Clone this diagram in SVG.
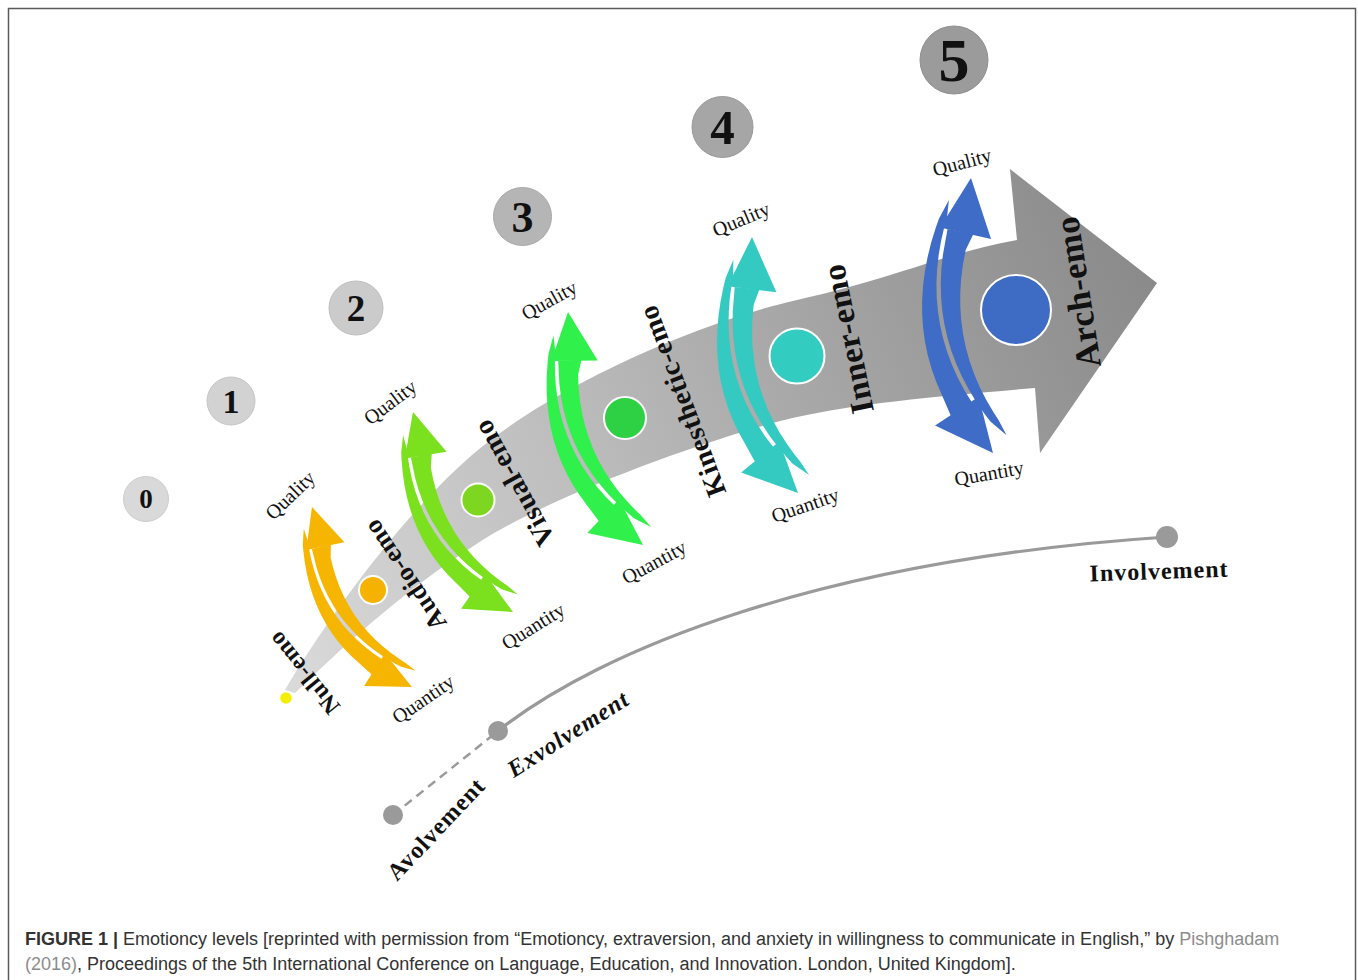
<svg xmlns="http://www.w3.org/2000/svg" width="1358" height="980" viewBox="0 0 1358 980">
<style>
.num{font-family:"Liberation Serif","Times New Roman",serif;font-weight:bold;text-anchor:middle;fill:#111}
.emo{font-family:"Liberation Serif","Times New Roman",serif;font-weight:bold;text-anchor:middle;dominant-baseline:central;fill:#111;letter-spacing:0.5px}
.q{font-family:"Liberation Serif","Times New Roman",serif;font-size:20px;text-anchor:middle;dominant-baseline:central;fill:#111}
.vol{font-family:"Liberation Serif","Times New Roman",serif;font-weight:bold;font-size:24px;text-anchor:middle;dominant-baseline:central;fill:#111;letter-spacing:1px}
.cap{font-family:"Liberation Sans",Arial,sans-serif;font-size:18px;fill:#333}
.lnk{fill:#8c8c8c}
.dot{fill:#9a9a9a}
</style>
<defs>
<linearGradient id="bandGrad" gradientUnits="userSpaceOnUse" x1="285" y1="690" x2="1157" y2="283">
<stop offset="0" stop-color="#dadada"/>
<stop offset="0.3" stop-color="#c3c3c3"/>
<stop offset="0.6" stop-color="#a9a9a9"/>
<stop offset="1" stop-color="#8a8a8a"/>
</linearGradient>
<g id="dbl">
<g transform="translate(-3.24,0.34)">
<polygon points="-8.6,16.3 -11.95,25 -13.48,30 -14.67,35 -15.52,40 -16.03,45 -16.2,50 -16.03,55 -15.52,60 -14.67,65 -13.48,70 -11.95,75 -10.08,80 -7.87,85 -6.38,88 -1.54,94 -3.38,88 -4.61,85 -6.39,80 -7.84,75 -8.94,70 -9.7,65 -10.12,60 -10.2,55 -9.94,50 -9.34,45 -8.41,40 -7.13,35 -5.51,30 -3.55,25 0.3,19.8"/>
<polygon points="-6.14,6 -7.98,12 -9.47,15 -11.68,20 -13.55,25 -15.08,30 -16.27,35 -17.12,40 -17.63,45 -17.8,50 -17.63,55 -17.12,60 -16.27,65 -15.08,70 -13.55,75 -10.84,82 -20.1,83.3 -21.95,75 -23.05,70 -23.81,65 -24.23,60 -24.32,55 -24.06,50 -23.46,45 -22.52,40 -21.24,35 -19.62,30 -17.66,25 -15.37,20 -12.73,15 -10.98,12"/>
<polygon points="3.24,-0.34 6.26,22.8 -11.16,15.2"/>
<polygon points="-7.6,99.4 -26.4,85.6 -8.89,78.3"/>
</g>
</g>
</defs>

<rect x="8.5" y="8.5" width="1347" height="990" fill="#fff" stroke="#5a5a5a" stroke-width="1.5"/>

<g id="band">
<path d="M285,690 C320,630 400,515 478,450 C556,385 700,322 797,300 C894,278 950,252 1017,240 L1010,169 L1157,283 L1040,453 L1035,388 C940,396 860,403 797,417 C734,431 560,490 478,543 C396,596 340,650 295,693 Z" fill="url(#bandGrad)"/>
</g>

<g id="levels">
<g id="level0"><circle cx="146" cy="499" r="22.5" fill="#d9d9d9" stroke="#cdcdcd"/><text class="num" x="146" y="508" font-size="27">0</text></g>
<g id="level1"><circle cx="231" cy="401" r="24" fill="#d2d2d2" stroke="#c6c6c6"/><text class="num" x="231" y="412.5" font-size="34">1</text></g>
<g id="level2"><circle cx="356" cy="308" r="27" fill="#cbcbcb" stroke="#bfbfbf"/><text class="num" x="356" y="320.5" font-size="37">2</text></g>
<g id="level3"><circle cx="522.5" cy="216.5" r="29" fill="#b5b5b5" stroke="#a9a9a9"/><text class="num" x="522.5" y="231.5" font-size="44">3</text></g>
<g id="level4"><circle cx="722.5" cy="127" r="30.5" fill="#a6a6a6" stroke="#9a9a9a"/><text class="num" x="722.5" y="143.5" font-size="49">4</text></g>
<g id="level5"><circle cx="954" cy="60" r="34" fill="#9b9b9b" stroke="#8f8f8f"/><text class="num" x="954" y="81" font-size="62">5</text></g>
</g>

<g id="arrows">
<use href="#dbl" fill="#f6b500" transform="translate(312,507) rotate(-35.25) scale(2.052)"/>
<use href="#dbl" fill="#7be01e" transform="translate(413,412) rotate(-32.77) scale(2.229)"/>
<use href="#dbl" fill="#30f04c" transform="translate(568,312) rotate(-24.04) scale(2.44)"/>
<use href="#dbl" fill="#35cac1" transform="translate(752,237) rotate(-16.39) scale(2.592)"/>
<use href="#dbl" fill="#3f6cc6" transform="translate(971,178) rotate(-10.77) scale(2.75)"/>
</g>

<g id="nodes">
<g id="null-emo"><circle cx="286" cy="698" r="6.5" fill="#f4ef00" stroke="#fff" stroke-width="1.5"/><text class="emo" font-size="24" transform="translate(304,673) rotate(-129)">Null-emo</text></g>
<g id="audio-emo"><circle cx="373" cy="590" r="14" fill="#f6b200" stroke="#fff" stroke-width="2"/><text class="emo" font-size="26" transform="translate(405,575) rotate(-123.7)">Audio-emo</text></g>
<g id="visual-emo"><circle cx="478" cy="500" r="16.5" fill="#7dd620" stroke="#fff" stroke-width="2"/><text class="emo" font-size="28" transform="translate(514,483) rotate(-118.8)">Visual-emo</text></g>
<g id="kinesthetic-emo"><circle cx="625" cy="418" r="21" fill="#2ed044" stroke="#fff" stroke-width="2"/><text class="emo" font-size="28" transform="translate(682,401) rotate(-110.6)">Kinesthetic-emo</text></g>
<g id="inner-emo"><circle cx="797" cy="356" r="27.5" fill="#33ccc0" stroke="#fff" stroke-width="2"/><text class="emo" font-size="33" transform="translate(848,339) rotate(-101.6)">Inner-emo</text></g>
<g id="arch-emo"><circle cx="1016" cy="310" r="35" fill="#3e6bc4" stroke="#fff" stroke-width="2"/><text class="emo" font-size="35" transform="translate(1078,292) rotate(-98.7)">Arch-emo</text></g>
</g>

<g id="qlabels">
<text class="q" transform="translate(290,495) rotate(-44)">Quality</text>
<text class="q" transform="translate(390,402) rotate(-37)">Quality</text>
<text class="q" transform="translate(549,300) rotate(-29)">Quality</text>
<text class="q" transform="translate(741,219) rotate(-23)">Quality</text>
<text class="q" transform="translate(962,162) rotate(-15)">Quality</text>
<text class="q" transform="translate(423,699) rotate(-34.5)">Quantity</text>
<text class="q" transform="translate(533,626) rotate(-32)">Quantity</text>
<text class="q" transform="translate(654,562) rotate(-28.5)">Quantity</text>
<text class="q" transform="translate(805,505) rotate(-19)">Quantity</text>
<text class="q" transform="translate(989,473) rotate(-10)">Quantity</text>
</g>

<g id="connectors">
<path d="M393,815 L498,731" fill="none" stroke="#9a9a9a" stroke-width="2.5" stroke-dasharray="9,6"/>
<path d="M498,731 C600,650 820,560 1167,537" fill="none" stroke="#9a9a9a" stroke-width="3.2"/>
</g>

<g id="involvement-scale">
<g id="avolvement"><circle class="dot" cx="393" cy="815" r="10"/><text class="vol" font-size="25" transform="translate(436,829) rotate(-46.7)">Avolvement</text></g>
<g id="exvolvement"><circle class="dot" cx="498" cy="731" r="10"/><text class="vol" font-style="italic" transform="translate(568,734) rotate(-32.6)">Exvolvement</text></g>
<g id="involvement"><circle class="dot" cx="1167" cy="537" r="11"/><text class="vol" font-size="25" letter-spacing="2" transform="translate(1159,571) rotate(-2)">Involvement</text></g>
</g>

<g id="caption">
<text class="cap" x="25" y="945"><tspan font-weight="bold">FIGURE 1 |</tspan> Emotioncy levels [reprinted with permission from “Emotioncy, extraversion, and anxiety in willingness to communicate in English,” by <tspan class="lnk">Pishghadam</tspan></text>
<text class="cap" x="25" y="970"><tspan class="lnk">(2016)</tspan>, Proceedings of the 5th International Conference on Language, Education, and Innovation. London, United Kingdom].</text>
</g>
</svg>
